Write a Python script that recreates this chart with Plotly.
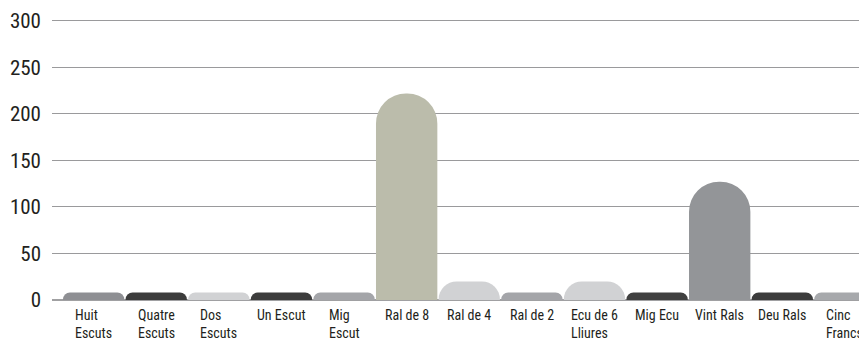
import plotly.graph_objects as go

categories = ["Huit<br>Escuts", "Quatre<br>Escuts", "Dos<br>Escuts", "Un Escut", "Mig<br>Escut",
              "Ral de 8", "Ral de 4", "Ral de 2", "Ecu de 6<br>Lliures", "Mig Ecu",
              "Vint Rals", "Deu Rals", "Cinc<br>Francs"]
values = [8, 8, 8, 8, 8, 222, 20, 8, 20, 8, 127, 8, 8]
colors = ["#8e8f93", "#3c3c3c", "#d1d2d4", "#3c3c3c", "#a4a5a9",
          "#bbbcab", "#d1d2d4", "#a4a5a9", "#d1d2d4", "#404040",
          "#939598", "#3c3c3c", "#a7a9ac"]
y_ticks = [0, 50, 100, 150, 200, 250, 300]

font_family = "Roboto Condensed, Roboto, sans-serif"
positions = list(range(len(categories)))

fig = go.Figure(go.Bar(
    x=positions,
    y=values,
    marker=dict(color=colors, line=dict(width=0), cornerradius="50%"),
    width=0.98,
    hoverinfo="skip",
))

# category labels: block centred on the category, lines left-aligned
for pos, label in zip(positions, categories):
    fig.add_annotation(
        x=pos, y=0, xref="x", yref="y",
        text=label, showarrow=False,
        xanchor="center", yanchor="top", align="left",
        yshift=-5, font=dict(size=14, color="#231f20", family=font_family),
    )

fig.update_layout(
    width=859, height=342,
    margin=dict(l=52, r=0, t=18, b=42, autoexpand=False),
    plot_bgcolor="white", paper_bgcolor="white",
    showlegend=False,
    font=dict(family=font_family, color="#231f20"),
    xaxis=dict(
        range=[-0.665, 12.225],
        showticklabels=False,
        showgrid=False, zeroline=False, showline=False,
        ticks="", automargin=False,
    ),
    yaxis=dict(
        range=[0, 303],
        tickmode="array", tickvals=y_ticks,
        ticktext=[str(t) for t in y_ticks],
        showgrid=True, gridcolor="#9a9a9c", gridwidth=1,
        zeroline=True, zerolinecolor="#a0a0a2", zerolinewidth=2,
        showline=False, ticks="", ticklabelstandoff=10,
        tickfont=dict(size=21), automargin=False,
    ),
)

fig.write_html(
    "out.html",
    config={"displayModeBar": False},
    post_script="document.body.style.margin='0';document.body.style.overflow='hidden';",
)
